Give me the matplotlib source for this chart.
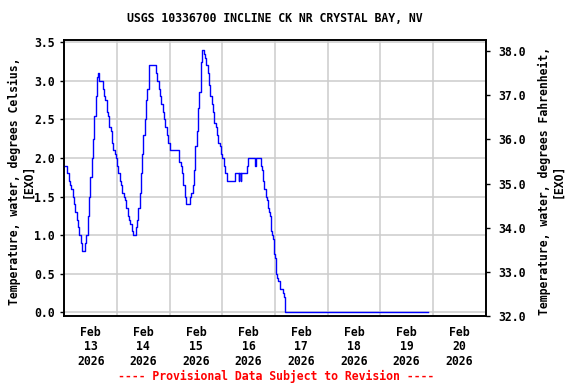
import pandas as pd
import matplotlib
matplotlib.use("Agg")
import matplotlib.pyplot as plt
import matplotlib.dates as mdates

# hours since 2026-02-13 00:00 and water temperature (deg C)
hours = [0, 1.1, 2.0, 2.6, 3.2, 3.8, 4.4, 5.0, 5.6, 6.2, 6.8, 7.5, 8.1, 9.0, 9.5,
         10.0, 10.7, 11.3, 11.9, 12.5, 13.1, 13.7, 14.3, 14.9, 15.2, 15.8, 17.2,
         17.5, 18.1, 18.6, 19.3, 19.9, 20.5, 21.1, 21.7, 22.3, 22.9, 23.5, 24.1,
         24.7, 25.3, 25.9, 26.5, 27.1, 27.7, 28.3, 28.9, 29.5, 30.1, 30.8, 31.4,
         32.2, 32.5, 33.1, 33.7, 34.3, 34.9, 35.5, 36.1, 36.7, 37.3, 37.9, 38.5,
         38.7, 41.5, 41.8, 42.4, 43.0, 43.6, 44.2, 44.8, 45.4, 46.0, 46.6, 47.1,
         48.3, 48.4, 51.8, 52.2, 52.5, 53.1, 53.7, 54.3, 54.9, 55.3, 56.5, 57.0,
         57.3, 57.9, 58.5, 59.1, 59.7, 60.3, 60.9, 61.5, 62.1, 62.7, 63.1, 63.5,
         64.1, 64.7, 65.3, 66.0, 66.6, 67.2, 67.8, 68.4, 69.0, 69.6, 70.2, 70.8,
         71.4, 72.0, 72.6, 73.2, 73.8, 74.3, 77.9, 78.0, 79.4, 79.5, 79.7, 80.3,
         80.4, 80.6, 82.8, 83.2, 83.9, 86.5, 87.0, 87.4, 89.2, 89.7, 90.2, 90.6,
         91.2, 91.9, 92.4, 92.8, 93.3, 93.8, 94.1, 94.4, 94.7, 95.1, 95.4, 95.9,
         96.3, 96.6, 97.0, 97.5, 98.3, 99.0, 99.6, 100.1, 100.4, 100.7, 166.0]
temp_c = [1.9, 1.8, 1.7, 1.65, 1.6, 1.5, 1.4, 1.3, 1.2, 1.1, 1.0, 0.9, 0.8, 0.8, 0.9,
          1.0, 1.25, 1.5, 1.75, 2.0, 2.25, 2.55, 2.8, 3.05, 3.1, 3.0, 3.0,
          2.9, 2.8, 2.75, 2.6, 2.55, 2.4, 2.35, 2.2, 2.1, 2.05, 2.0, 1.9,
          1.8, 1.7, 1.65, 1.55, 1.5, 1.45, 1.35, 1.25, 1.2, 1.15, 1.05, 1.0,
          1.0, 1.1, 1.2, 1.35, 1.55, 1.8, 2.05, 2.3, 2.5, 2.75, 2.9, 3.15,
          3.2, 3.2, 3.1, 3.0, 2.9, 2.8, 2.7, 2.6, 2.5, 2.4, 2.3, 2.2,
          2.2, 2.1, 2.1, 2.05, 1.95, 1.9, 1.8, 1.65, 1.5, 1.4, 1.4, 1.4,
          1.5, 1.55, 1.65, 1.85, 2.15, 2.35, 2.65, 2.85, 3.25, 3.4, 3.4, 3.35,
          3.3, 3.2, 3.1, 2.95, 2.8, 2.7, 2.6, 2.45, 2.4, 2.3, 2.2, 2.15,
          2.05, 2.0, 1.9, 1.8, 1.8, 1.7, 1.7, 1.8, 1.8, 1.7, 1.8, 1.8,
          1.7, 1.8, 1.8, 1.9, 2.0, 2.0, 1.9, 2.0, 2.0, 1.9, 1.85, 1.7,
          1.6, 1.5, 1.45, 1.35, 1.3, 1.25, 1.15, 1.05, 1.0, 0.95, 0.75, 0.7,
          0.65, 0.5, 0.45, 0.4, 0.3, 0.3, 0.25, 0.2, 0.05, 0.0, 0.0]

start = pd.Timestamp("2026-02-13 00:00")
end = pd.Timestamp("2026-02-21 00:00")
times = start + pd.to_timedelta(hours, unit="h")

FONT = "DejaVu Sans Mono"
FS = 8.3

fig = plt.figure(figsize=(5.76, 3.84), dpi=100)
ax = fig.add_axes([64.3 / 576, 1 - 316 / 384, (485.5 - 64.3) / 576, (316 - 39.7) / 384])

ax.plot(times, temp_c, color="#0000ff", linewidth=1.0, drawstyle="steps-post", zorder=3)

ax.set_xlim(start, end)
ax.set_ylim(-0.048, 3.534)
ax.set_yticks([0.0, 0.5, 1.0, 1.5, 2.0, 2.5, 3.0, 3.5])
ax.set_yticklabels([f"{v:.1f}" for v in ax.get_yticks()],
                   fontfamily=FONT, fontweight="bold", fontsize=FS)

# gridlines at midnight, date labels at noon
ax.xaxis.set_major_locator(mdates.DayLocator())
ax.xaxis.set_major_formatter(plt.NullFormatter())
ax.xaxis.set_minor_locator(mdates.HourLocator(byhour=[12]))
ax.xaxis.set_minor_formatter(mdates.DateFormatter("%b\n%d\n%Y"))
ax.tick_params(axis="x", which="both", length=0)
ax.tick_params(axis="x", which="minor", pad=7)
for lbl in ax.xaxis.get_minorticklabels():
    lbl.set_fontfamily(FONT)
    lbl.set_fontweight("bold")
    lbl.set_fontsize(FS)
    lbl.set_linespacing(1.15)

ax.tick_params(axis="y", length=3, width=1, pad=4)
ax.grid(True, which="major", color="#cccccc", linewidth=1.1)
ax.set_axisbelow(True)
for s in ax.spines.values():
    s.set_linewidth(1.2)

# Fahrenheit axis
ax2 = ax.twinx()
ax2.set_ylim(32.0, 38.26)
ax2.set_yticks([32.0, 33.0, 34.0, 35.0, 36.0, 37.0, 38.0])
ax2.set_yticklabels([f"{v:.1f}" for v in ax2.get_yticks()],
                    fontfamily=FONT, fontweight="bold", fontsize=FS)
ax2.tick_params(axis="y", length=3, width=1, pad=6)
for s in ax2.spines.values():
    s.set_linewidth(1.2)

fig.text(275 / 576, 1 - 19 / 384, "USGS 10336700 INCLINE CK NR CRYSTAL BAY, NV",
         ha="center", va="center", fontfamily=FONT, fontweight="bold", fontsize=FS)
fig.text(21 / 576, 1 - 181 / 384, "Temperature, water, degrees Celsius,\n[EXO]",
         ha="center", va="center", rotation=90, multialignment="center",
         fontfamily=FONT, fontweight="bold", fontsize=FS, linespacing=1.1)
fig.text(551 / 576, 1 - 181 / 384, "Temperature, water, degrees Fahrenheit,\n[EXO]",
         ha="center", va="center", rotation=90, multialignment="center",
         fontfamily=FONT, fontweight="bold", fontsize=FS, linespacing=1.1)
fig.text(276 / 576, 1 - 376 / 384, "---- Provisional Data Subject to Revision ----",
         ha="center", va="center", color="red",
         fontfamily=FONT, fontweight="bold", fontsize=FS)

fig.savefig("out.png", dpi=100)
